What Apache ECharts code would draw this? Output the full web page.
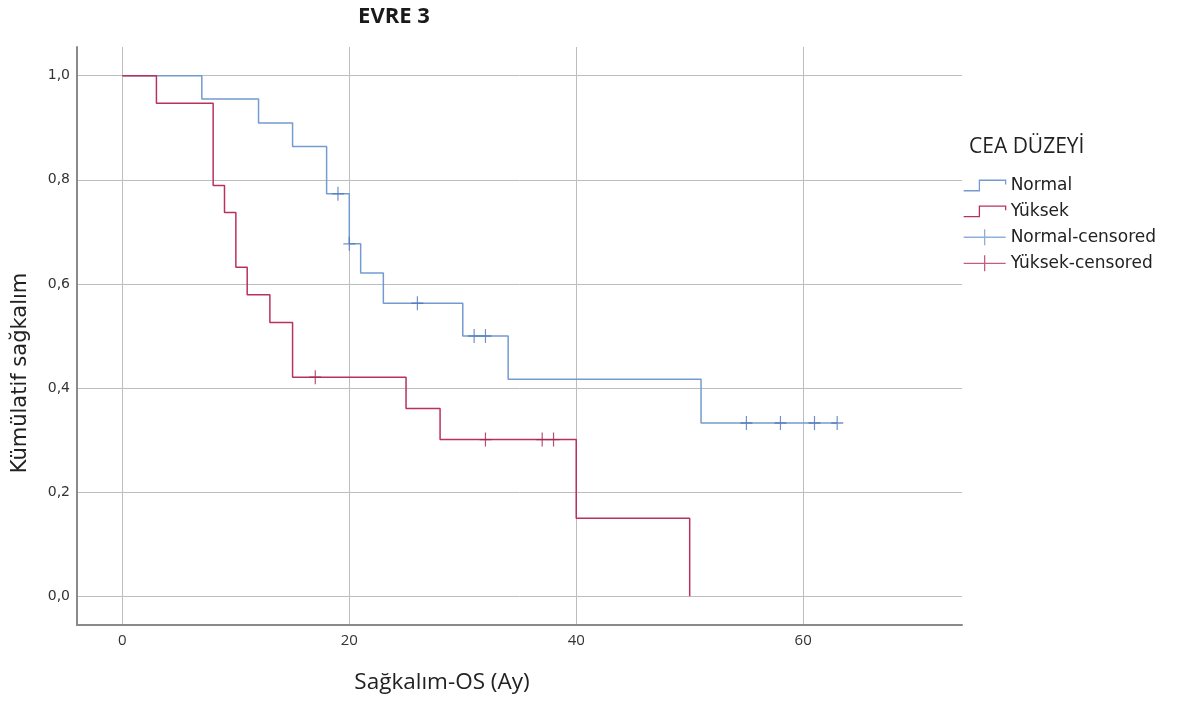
<!DOCTYPE html>
<html><head><meta charset="utf-8">
<script src="https://cdn.jsdelivr.net/npm/echarts@6/dist/echarts.min.js"></script>
<style>html,body{margin:0;padding:0;background:#fff;}#c{width:1177px;height:702px;}</style>
</head><body><div id="c"></div>
<script>
var chartTitle = 'EVRE 3';
var legendTitle = 'CEA DÜZEYİ';
var xName = 'Sağkalım-OS (Ay)';
var yName = 'Kümülatif sağkalım';
var xTicks = [0, 20, 40, 60];
var yTicks = [0, 0.2, 0.4, 0.6, 0.8, 1.0];
var seriesNames = ['Normal', 'Yüksek', 'Normal-censored', 'Yüksek-censored'];

var normalTimes = [0, 7, 12, 15, 18, 20, 21, 23, 30, 34, 51, 63];
var normalSurv  = [1, 0.955, 0.909, 0.864, 0.773, 0.677, 0.621, 0.563, 0.5, 0.417, 0.333, 0.333];
var normalCensT = [19, 20, 26, 31, 32, 55, 58, 61, 63];
var normalCensS = [0.773, 0.677, 0.563, 0.5, 0.5, 0.333, 0.333, 0.333, 0.333];

var yuksekTimes = [0, 3, 8, 9, 10, 11, 13, 15, 25, 28, 40, 50];
var yuksekSurv  = [1, 0.947, 0.789, 0.737, 0.632, 0.579, 0.526, 0.421, 0.361, 0.301, 0.150, 0];
var yuksekCensT = [17, 32, 37, 38];
var yuksekCensS = [0.421, 0.301, 0.301, 0.301];

function zip(a, b) { return a.map(function (v, i) { return [v, b[i]]; }); }

var blue = '#739bd2', blueDark = '#4f76bd';
var red = '#b8325c', redDark = '#a5264f';
var stepUp = 'path://M0,13 L15,13 L15,3 L40,3 L40,7';
var cross = 'path://M0,8 L42,8 M21,0 L21,16';
var tickCross = 'path://M0,7 L12,7 M6,0 L6,14';

var chart = echarts.init(document.getElementById('c'));
chart.setOption({
  animation: false,
  graphic: [
    { type: 'text', x: 394, y: 17, style: { text: chartTitle, font: 'bold 22px "Open Sans"', fill: '#1a1a1a', textAlign: 'center', textVerticalAlign: 'middle' } },
    { type: 'text', x: 969, y: 147, style: { text: legendTitle, font: '21px "Open Sans"', fill: '#222', textAlign: 'left', textVerticalAlign: 'middle' } },
    { type: 'text', x: 442, y: 683, style: { text: xName, font: '22.5px "Open Sans"', fill: '#222', textAlign: 'center', textVerticalAlign: 'middle' } },
    { type: 'text', x: 21, y: 373, rotation: Math.PI / 2, style: { text: yName, font: '21px "DejaVu Sans"', fill: '#222', textAlign: 'center', textVerticalAlign: 'middle' } }
  ],
  grid: { left: 77, right: 215, top: 47, bottom: 77, containLabel: false },
  legend: {
    orient: 'vertical', left: 963, top: 177, padding: 0,
    itemWidth: 42, itemHeight: 16, itemGap: 8.8,
    textStyle: { fontFamily: '"DejaVu Sans"', fontSize: 17, lineHeight: 16, color: '#222' },
    data: [
      { name: seriesNames[0], icon: stepUp, itemStyle: { color: 'transparent', borderColor: blue, borderWidth: 1.3 } },
      { name: seriesNames[1], icon: stepUp, itemStyle: { color: 'transparent', borderColor: red, borderWidth: 1.3 } },
      { name: seriesNames[2], icon: cross, itemStyle: { color: 'transparent', borderColor: blue, borderWidth: 1.3 } },
      { name: seriesNames[3], icon: cross, itemStyle: { color: 'transparent', borderColor: red, borderWidth: 1.3 } }
    ]
  },
  xAxis: {
    type: 'value', min: -4, max: 74,
    axisLine: { show: true, onZero: false, lineStyle: { color: '#8a8a8a', width: 2 } },
    axisTick: { show: false, customValues: xTicks },
    axisLabel: { customValues: xTicks, margin: 8, fontFamily: '"Open Sans"', fontSize: 15, color: '#333' },
    splitLine: { show: true, lineStyle: { color: '#bdbdbd', width: 1 } }
  },
  yAxis: {
    type: 'value', min: -0.055, max: 1.055,
    axisLine: { show: true, onZero: false, lineStyle: { color: '#8a8a8a', width: 2 } },
    axisTick: { show: false, customValues: yTicks },
    axisLabel: { customValues: yTicks, margin: 7, fontFamily: '"DejaVu Sans"', fontSize: 14, color: '#333',
      formatter: function (v) { return v.toFixed(1).replace('.', ','); } },
    splitLine: { show: true, lineStyle: { color: '#bdbdbd', width: 1 } }
  },
  series: [
    { name: seriesNames[0], type: 'line', step: 'end', showSymbol: false, symbol: 'none',
      data: zip(normalTimes, normalSurv), lineStyle: { color: blue, width: 1.5 }, itemStyle: { color: blue }, z: 3 },
    { name: seriesNames[1], type: 'line', step: 'end', showSymbol: false, symbol: 'none',
      data: zip(yuksekTimes, yuksekSurv), lineStyle: { color: red, width: 1.5 }, itemStyle: { color: red }, z: 3 },
    { name: seriesNames[2], type: 'scatter', symbol: tickCross, symbolSize: [12, 14],
      data: zip(normalCensT, normalCensS), itemStyle: { color: 'transparent', borderColor: blueDark, borderWidth: 1.3 }, z: 4 },
    { name: seriesNames[3], type: 'scatter', symbol: tickCross, symbolSize: [12, 14],
      data: zip(yuksekCensT, yuksekCensS), itemStyle: { color: 'transparent', borderColor: redDark, borderWidth: 1.3 }, z: 4 }
  ]
});
</script></body></html>
